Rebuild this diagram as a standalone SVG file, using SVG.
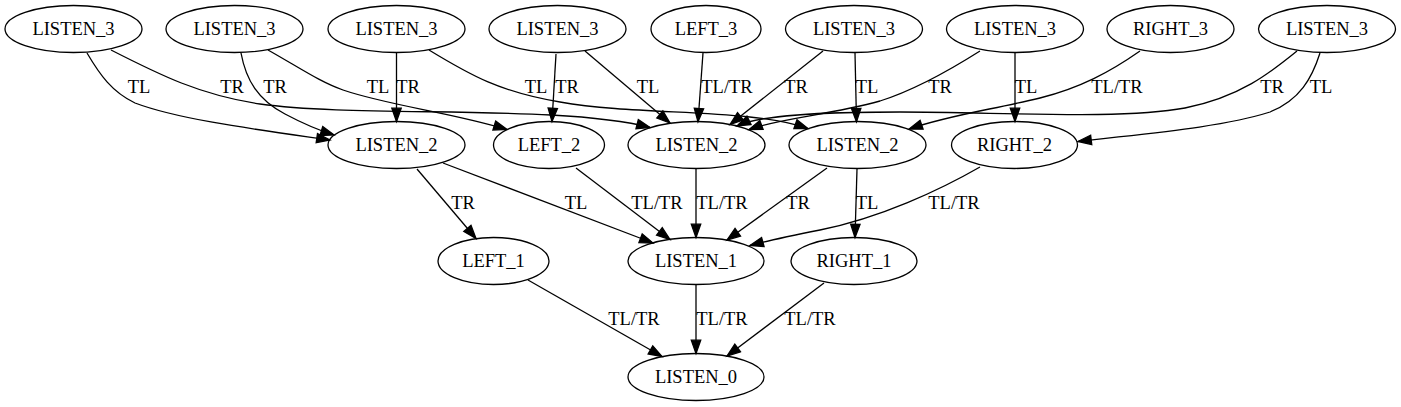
<svg xmlns="http://www.w3.org/2000/svg" width="1401" height="407" viewBox="0 0 1401 407">
<defs>
<style>
.n ellipse{fill:none;stroke:#000;stroke-width:1.3}
.n text,.lbl text{font-family:"Liberation Serif","Times New Roman",serif;font-size:18.5px;fill:#000;text-anchor:middle}
.e path{fill:none;stroke:#000;stroke-width:1.3;marker-end:url(#arr)}
</style>
<marker id="arr" markerUnits="userSpaceOnUse" markerWidth="16" markerHeight="12" refX="13.3" refY="0" viewBox="0 -6 16 12" orient="auto" overflow="visible">
<path d="M0,-4.7 L13.3,0 L0,4.7 z" fill="#000" stroke="#000" stroke-width="1.3"/>
</marker>
</defs>
<rect width="1401" height="407" fill="#fff"/>
<g id="connectors" class="e">
<path d="M87,53 C100,75 112,92 135,103 C180,120 260,130 330,140"/>
<path d="M111,50 C160,75 200,95 260,104 C360,118 560,104 650,127.5"/>
<path d="M241,53 C246,80 258,100 285,114 C300,122 315,129 334,135"/>
<path d="M268,50 C300,68 320,82 343,90 C390,106 450,112 507,129.5"/>
<path d="M396.5,53 L396.5,121.5"/>
<path d="M429,50 C470,75 500,92 560,102 C640,116 750,108 808,128.5"/>
<path d="M556,54 L552,121.5"/>
<path d="M585,51 L670,123"/>
<path d="M703,53 L698,121.7"/>
<path d="M823,51 L730,124.5"/>
<path d="M855,53 L856.5,121.7"/>
<path d="M980,51 C950,70 915,90 880,101 C830,115 780,118 749,129.5"/>
<path d="M1015,53 L1015,121.5"/>
<path d="M1140,51 C1110,72 1080,88 1040,98 C990,110 950,115 909,129"/>
<path d="M1297,51 C1270,73 1240,97 1185,108 C1120,120 1000,112 900,112 C820,112 760,115 737,126"/>
<path d="M1320,53 C1312,78 1300,100 1270,112 C1220,128 1140,134 1078,141.5"/>
<path d="M417,169 L476,238.5"/>
<path d="M443,163 L653,243"/>
<path d="M576,168 L670,239.5"/>
<path d="M696,169 L696,237.5"/>
<path d="M827,168 L727,240"/>
<path d="M857,169 L855,237.5"/>
<path d="M980,167 C940,190 880,218 820,230 C790,236 770,240 750,245.5"/>
<path d="M528,280 L662,356.5"/>
<path d="M696,285 L696,353.5"/>
<path d="M824,283 L727,356"/>
</g>
<g id="edge-labels" class="lbl">
<text x="139" y="92.5">TL</text>
<text x="232" y="92.5">TR</text>
<text x="275" y="92.5">TR</text>
<text x="378" y="92.5">TL</text>
<text x="408" y="92.5">TR</text>
<text x="536" y="92.5">TL</text>
<text x="567" y="92.5">TR</text>
<text x="648" y="92.5">TL</text>
<text x="727" y="92.5">TL/TR</text>
<text x="796" y="92.5">TR</text>
<text x="867" y="92.5">TL</text>
<text x="940" y="92.5">TR</text>
<text x="1026" y="92.5">TL</text>
<text x="1117" y="92.5">TL/TR</text>
<text x="1272" y="92.5">TR</text>
<text x="1321" y="92.5">TL</text>
<text x="463" y="208.5">TR</text>
<text x="576" y="208.5">TL</text>
<text x="657" y="208.5">TL/TR</text>
<text x="722" y="208.5">TL/TR</text>
<text x="798" y="208.5">TR</text>
<text x="867" y="208.5">TL</text>
<text x="954" y="208.5">TL/TR</text>
<text x="634" y="325">TL/TR</text>
<text x="722" y="325">TL/TR</text>
<text x="810" y="325">TL/TR</text>
</g>
<g id="t1" class="n"><ellipse cx="73.5" cy="29" rx="68.5" ry="23.5"/><text x="73.5" y="35">LISTEN_3</text></g>
<g id="t2" class="n"><ellipse cx="234.5" cy="29" rx="68.5" ry="23.5"/><text x="234.5" y="35">LISTEN_3</text></g>
<g id="t3" class="n"><ellipse cx="396.5" cy="29" rx="68.5" ry="23.5"/><text x="396.5" y="35">LISTEN_3</text></g>
<g id="t4" class="n"><ellipse cx="557.5" cy="29" rx="68.5" ry="23.5"/><text x="557.5" y="35">LISTEN_3</text></g>
<g id="t5" class="n"><ellipse cx="706" cy="29" rx="55" ry="23.5"/><text x="706" y="35">LEFT_3</text></g>
<g id="t6" class="n"><ellipse cx="854" cy="29" rx="68.5" ry="23.5"/><text x="854" y="35">LISTEN_3</text></g>
<g id="t7" class="n"><ellipse cx="1015" cy="29" rx="68.5" ry="23.5"/><text x="1015" y="35">LISTEN_3</text></g>
<g id="t8" class="n"><ellipse cx="1170.5" cy="29" rx="63.5" ry="23.5"/><text x="1170.5" y="35">RIGHT_3</text></g>
<g id="t9" class="n"><ellipse cx="1327" cy="29" rx="68.5" ry="23.5"/><text x="1327" y="35">LISTEN_3</text></g>
<g id="m1" class="n"><ellipse cx="396.5" cy="145" rx="68.5" ry="23.5"/><text x="396.5" y="151">LISTEN_2</text></g>
<g id="m2" class="n"><ellipse cx="549" cy="145" rx="55.5" ry="23.5"/><text x="549" y="151">LEFT_2</text></g>
<g id="m3" class="n"><ellipse cx="696.5" cy="145" rx="68.5" ry="23.5"/><text x="696.5" y="151">LISTEN_2</text></g>
<g id="m4" class="n"><ellipse cx="857.5" cy="145" rx="68.5" ry="23.5"/><text x="857.5" y="151">LISTEN_2</text></g>
<g id="m5" class="n"><ellipse cx="1014.5" cy="145" rx="63" ry="23.5"/><text x="1014.5" y="151">RIGHT_2</text></g>
<g id="b1" class="n"><ellipse cx="493.5" cy="261" rx="55.5" ry="23.5"/><text x="493.5" y="267">LEFT_1</text></g>
<g id="b2" class="n"><ellipse cx="696" cy="261" rx="68" ry="23.5"/><text x="696" y="267">LISTEN_1</text></g>
<g id="b3" class="n"><ellipse cx="854" cy="261" rx="63" ry="23.5"/><text x="854" y="267">RIGHT_1</text></g>
<g id="z" class="n"><ellipse cx="696" cy="377" rx="68" ry="23.5"/><text x="696" y="383">LISTEN_0</text></g>
</svg>
